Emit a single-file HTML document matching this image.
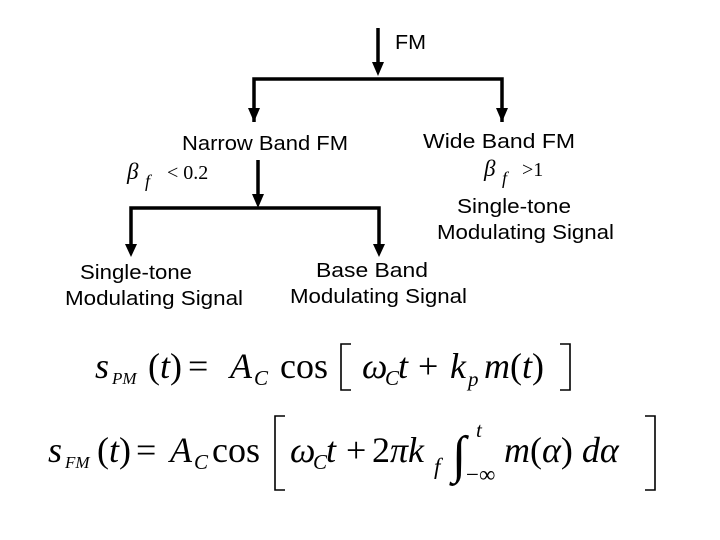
<!DOCTYPE html>
<html><head><meta charset="utf-8"><style>
html,body{margin:0;padding:0;background:#fff;}
svg{display:block;}
.s{font-family:"Liberation Sans",sans-serif;font-size:20px;fill:#000;}
.m{font-family:"Liberation Serif",serif;fill:#000;}
.i{font-style:italic;}
</style></head><body>
<svg width="720" height="540" viewBox="0 0 720 540" xmlns="http://www.w3.org/2000/svg">
<g stroke="#000" stroke-width="3.5" fill="none">
<line x1="378" y1="28" x2="378" y2="66"/>
<polyline points="254,122 254,79 502,79 502,122"/>
<line x1="258" y1="160" x2="258" y2="198"/>
<polyline points="131,248 131,208 379,208 379,248"/>
</g>
<g fill="#000">
<polygon points="372,62 384,62 378,76"/>
<polygon points="248,108 260,108 254,122"/>
<polygon points="496,108 508,108 502,122"/>
<polygon points="252,194 264,194 258,208"/>
<polygon points="125,244 137,244 131,257"/>
<polygon points="373,244 385,244 379,257"/>
</g>
<text class="s" x="395" y="49" textLength="31" lengthAdjust="spacingAndGlyphs">FM</text>
<text class="s" x="182" y="150" textLength="166" lengthAdjust="spacingAndGlyphs">Narrow Band FM</text>
<text class="s" x="423" y="148" textLength="152" lengthAdjust="spacingAndGlyphs">Wide Band FM</text>
<text class="s" x="457" y="213" textLength="114" lengthAdjust="spacingAndGlyphs">Single-tone</text>
<text class="s" x="437" y="239" textLength="177" lengthAdjust="spacingAndGlyphs">Modulating Signal</text>
<text class="s" x="80" y="279" textLength="112" lengthAdjust="spacingAndGlyphs">Single-tone</text>
<text class="s" x="65" y="305" textLength="178" lengthAdjust="spacingAndGlyphs">Modulating Signal</text>
<text class="s" x="316" y="277" textLength="112" lengthAdjust="spacingAndGlyphs">Base Band</text>
<text class="s" x="290" y="303" textLength="177" lengthAdjust="spacingAndGlyphs">Modulating Signal</text>
<text class="m i" x="127" y="179" font-size="23">β</text>
<text class="m i" x="145" y="187" font-size="18">f</text>
<text class="m" x="167" y="179" font-size="20">&lt; 0.2</text>
<text class="m i" x="484" y="176" font-size="23">β</text>
<text class="m i" x="502" y="184" font-size="18">f</text>
<text class="m" x="522" y="176" font-size="20">&gt;1</text>
<!-- PM equation -->
<g class="m" font-size="36">
<text class="i" x="95" y="378">s</text>
<text class="i" x="112" y="384" font-size="17">PM</text>
<text x="148" y="378">(<tspan class="i">t</tspan>)</text>
<text x="188" y="378">=</text>
<text class="i" x="230" y="378">A</text>
<text class="i" x="254" y="385" font-size="21">C</text>
<text x="280" y="378">cos</text>
<text class="i" x="362" y="378">ω</text>
<text class="i" x="385" y="385" font-size="21">C</text>
<text class="i" x="398" y="378">t</text>
<text x="418" y="378">+</text>
<text class="i" x="450" y="378">k</text>
<text class="i" x="468" y="386" font-size="21">p</text>
<text x="484" y="378"><tspan class="i">m</tspan>(<tspan class="i">t</tspan>)</text>
</g>
<g stroke="#000" stroke-width="1.6" fill="none">
<polyline points="351,344 341,344 341,390 351,390"/>
<polyline points="560,344 570,344 570,390 560,390"/>
<polyline points="285,416 275,416 275,490 285,490"/>
<polyline points="645,416 655,416 655,490 645,490"/>
</g>
<!-- FM equation -->
<g class="m" font-size="36">
<text class="i" x="48" y="462">s</text>
<text class="i" x="65" y="468" font-size="17">FM</text>
<text x="97" y="462">(<tspan class="i">t</tspan>)</text>
<text x="136" y="462">=</text>
<text class="i" x="170" y="462">A</text>
<text class="i" x="194" y="469" font-size="21">C</text>
<text x="212" y="462">cos</text>
<text class="i" x="290" y="462">ω</text>
<text class="i" x="313" y="469" font-size="21">C</text>
<text class="i" x="326" y="462">t</text>
<text x="346" y="462">+</text>
<text x="372" y="462">2<tspan class="i">πk</tspan></text>
<text class="i" x="434" y="474" font-size="23">f</text>
<text x="452" y="472" font-size="52">∫</text>
<text class="i" x="476" y="437" font-size="21">t</text>
<text x="466" y="482" font-size="23">−∞</text>
<text x="504" y="462"><tspan class="i">m</tspan>(<tspan class="i">α</tspan>) <tspan class="i">dα</tspan></text>
</g>
</svg>
</body></html>
